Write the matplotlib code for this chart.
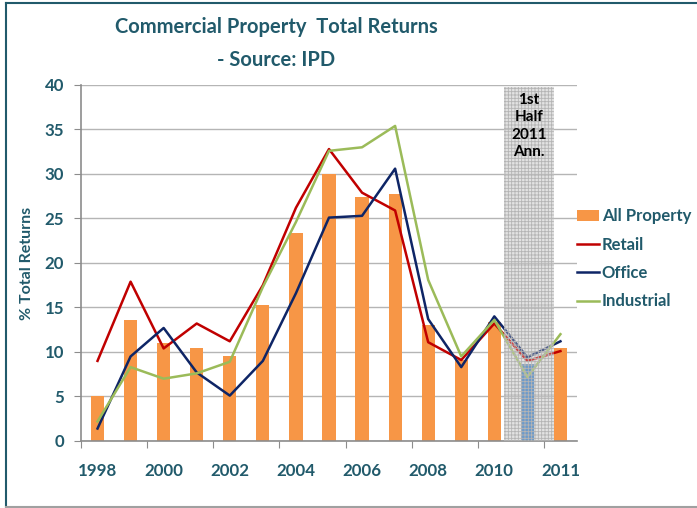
import numpy as np
import matplotlib
matplotlib.use("Agg")
import matplotlib.pyplot as plt
from matplotlib.lines import Line2D
from matplotlib.patches import Patch

plt.rcParams['font.family'] = ['Lato', 'DejaVu Sans']
plt.rcParams['hatch.linewidth'] = 0.6
plt.rcParams['hatch.color'] = '#B4B4B4'

# data
periods = ['1998', '1999', '2000', '2001', '2002', '2003', '2004', '2005',
           '2006', '2007', '2008', '2009', '2010', '2011 H1', '2011']
all_property = [5.1, 13.6, 11.0, 10.5, 9.5, 15.3, 23.4, 30.0,
                27.4, 27.8, 13.0, 9.1, 13.4, 8.7, 10.5]
retail = [9.0, 17.9, 10.4, 13.2, 11.2, 17.5, 26.2, 32.8,
          27.9, 25.9, 11.1, 9.1, 13.2, 9.0, 10.1]
office = [1.4, 9.5, 12.7, 7.7, 5.1, 9.0, 16.6, 25.1,
          25.3, 30.6, 13.7, 8.3, 14.0, 9.4, 11.2]
industrial = [2.2, 8.3, 7.0, 7.6, 8.9, 17.3, 24.6, 32.6,
              33.0, 35.4, 18.1, 9.5, 13.6, 7.2, 12.0]
tick_labels = ['1998', '2000', '2002', '2004', '2006', '2008', '2010', '2011']
tick_idx = [0, 2, 4, 6, 8, 10, 12, 14]
half_year_idx = 13

teal = '#215A6B'
orange = '#F79646'
red = '#C00000'
navy = '#0E2566'
green = '#9BBB59'
blue = '#3C7DC0'

fig = plt.figure(figsize=(6.97, 5.08), dpi=100)
ax = fig.add_axes([0.1162, 0.1319, 0.7116, 0.7008])

x = np.arange(len(periods))
bar_cols = [blue if i == half_year_idx else orange for i in x]
ax.bar(x, all_property, width=0.4, color=bar_cols, zorder=2)

ax.plot(x, retail, color=red, lw=1.8, zorder=3)
ax.plot(x, office, color=navy, lw=1.8, zorder=3)
ax.plot(x, industrial, color=green, lw=1.8, zorder=3)

# shaded half-year band: solid underlay + hatched see-through overlay
ax.axvspan(12.29, 13.8, ymin=0, ymax=39.8 / 40, facecolor='#E4E4E4',
           edgecolor='none', zorder=0.5)
ax.axvspan(12.29, 13.8, ymin=0, ymax=39.8 / 40, facecolor=(0.88, 0.88, 0.88, 0.3),
           edgecolor='#B4B4B4', lw=0, hatch='+++++', zorder=4)
ax.text(13.05, 39.1, '1st\nHalf\n2011\nAnn.', ha='center', va='top',
        fontsize=11, fontweight='bold', color='black', linespacing=1.3, zorder=5)

ax.set_xlim(-0.5, 14.5)
ax.set_ylim(0, 40)
ax.set_yticks(np.arange(0, 41, 5))
ax.yaxis.grid(True, color='#B5B5B5', lw=1)
ax.set_axisbelow(True)

ax.set_xticks(np.arange(-0.5, 14, 2))
ax.set_xticklabels([])
ax.set_xticks(tick_idx, tick_labels, minor=True)
ax.tick_params(axis='x', which='major', length=5, color='#8C8C8C', direction='out')
ax.tick_params(axis='x', which='minor', length=0, pad=16, labelsize=12.2,
               labelcolor=teal)
ax.tick_params(axis='y', length=5, color='#8C8C8C', pad=7, labelsize=12.2,
               labelcolor=teal)
for lab in ax.get_xticklabels(minor=True) + ax.get_yticklabels():
    lab.set_fontweight('bold')

for s in ['top', 'right']:
    ax.spines[s].set_visible(False)
for s in ['left', 'bottom']:
    ax.spines[s].set_color('#8C8C8C')
    ax.spines[s].set_linewidth(1.2)

ax.set_ylabel('% Total Returns', fontsize=11.5, fontweight='bold', color=teal,
              labelpad=8)

fig.text(0.396, 0.947, 'Commercial Property  Total Returns', ha='center',
         va='center', fontsize=14.5, fontweight='bold', color=teal)
fig.text(0.396, 0.881, '- Source: IPD', ha='center', va='center',
         fontsize=14.5, fontweight='bold', color=teal)

handles = [Patch(facecolor=orange),
           Line2D([], [], color=red, lw=1.8),
           Line2D([], [], color=navy, lw=1.8),
           Line2D([], [], color=green, lw=1.8)]
leg = fig.legend(handles, ['All Property', 'Retail', 'Office', 'Industrial'],
                 loc='upper left', bbox_to_anchor=(0.818, 0.603), frameon=False,
                 handlelength=1.35, handleheight=0.6, handletextpad=0.15,
                 labelspacing=0.74, borderaxespad=0, prop={'size': 12})
for t in leg.get_texts():
    t.set_color(teal)
    t.set_fontweight('bold')

# outer frame of the slide
fig.add_artist(Line2D([0.0093, 0.0093], [0.0, 0.994], color=teal, lw=1.5))
fig.add_artist(Line2D([0.0093, 1.0], [0.994, 0.994], color=teal, lw=1.5))
fig.add_artist(Line2D([0.0093, 1.0], [0.002, 0.002], color='#A0A0A0', lw=1.5))

fig.savefig('out.png', dpi=100)
